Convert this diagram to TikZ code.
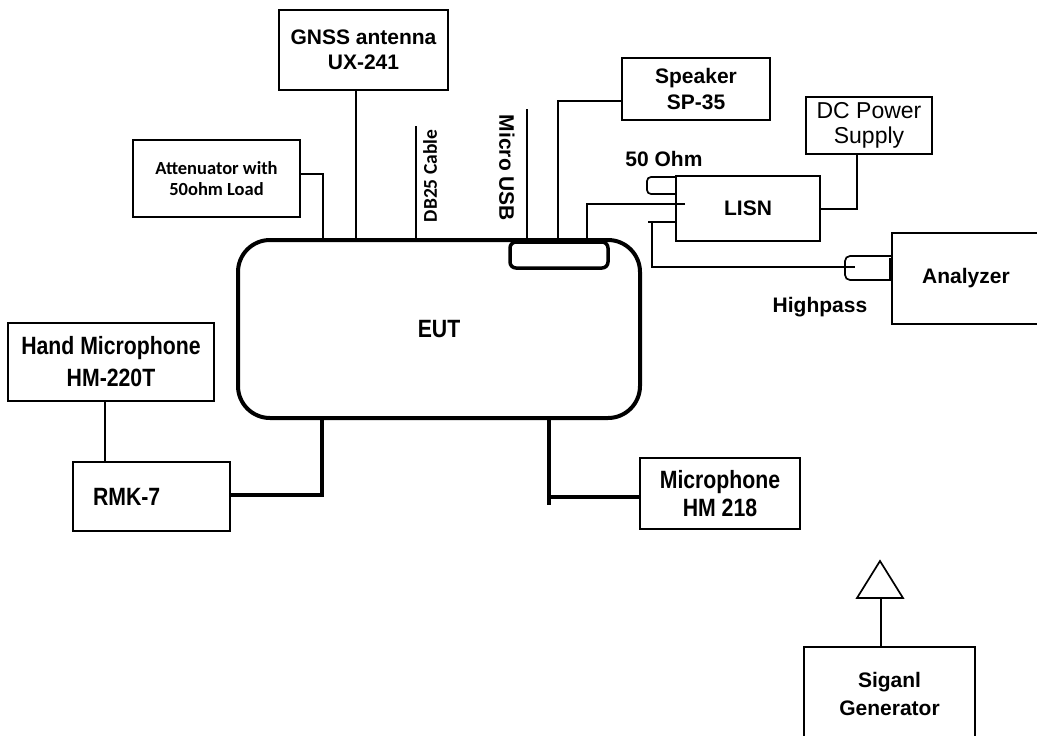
\documentclass[tikz,border=0pt]{standalone}
\usepackage{fontspec}
\setmainfont{Liberation Sans}
\newfontfamily\narrowf{Liberation Sans}[FakeStretch=0.85]
\newfontfamily\calf{Carlito}
\begin{document}
\begin{tikzpicture}[x=1pt,y=-1pt,
  box/.style={draw, line width=1.6pt, inner sep=0pt, align=center},
  arialf/.style={font=\fontsize{21}{25}\selectfont\bfseries},
  narf/.style={font=\narrowf\fontsize{25}{30}\selectfont\bfseries},
  thinline/.style={line width=1.7pt},
  thickline/.style={line width=4pt}
]
\useasboundingbox (0,0) rectangle (1037,736);
% EUT
\node[draw, line width=4pt, rounded corners=32pt, minimum width=402pt, minimum height=178pt, narf] (eut) at (439,329) {EUT};
\node[draw, line width=3.5pt, rounded corners=6pt, minimum width=98pt, minimum height=26pt] (port) at (559,255) {};
% boxes
\node[box, arialf, minimum width=169pt, minimum height=80pt] (gnss) at (363.5,50) {GNSS antenna\\UX-241};
\node[box, font=\calf\fontsize{18.5}{21}\selectfont\bfseries, minimum width=167pt, minimum height=77pt] (att) at (216.5,178.5) {Attenuator with\\50ohm Load};
\node[box, arialf, minimum width=148pt, minimum height=62pt, font=\fontsize{21}{26}\selectfont\bfseries] (spk) at (696,89) {Speaker\\SP-35};
\node[box, font=\fontsize{23}{25}\selectfont, minimum width=126pt, minimum height=57pt] (dc) at (869,125.5) {DC Power\\Supply};
\node[box, arialf, minimum width=144pt, minimum height=65pt] (lisn) at (748,208.5) {LISN};
\node[box, arialf, minimum width=148pt, minimum height=91pt] (ana) at (966,278.5) {Analyzer};
\node[box, narf, minimum width=206pt, minimum height=78pt, font=\narrowf\fontsize{25}{32}\selectfont\bfseries] (hand) at (111,362) {Hand Microphone\\HM-220T};
\node[box, narf, text width=117pt, align=left, inner xsep=20pt, minimum height=69pt] (rmk) at (151.5,496.5) {RMK-7};
\node[box, narf, minimum width=160pt, minimum height=71pt, font=\narrowf\fontsize{25}{28}\selectfont\bfseries] (mic) at (720,493.5) {Microphone\\HM 218};
\node[box, arialf, minimum width=171pt, minimum height=93pt, font=\fontsize{21}{28}\selectfont\bfseries] (sig) at (889.5,693.5) {Siganl\\Generator};
% labels
\node[font=\calf\fontsize{19.5}{22}\selectfont\bfseries, rotate=90] (dbl) at (430,176) {DB25 Cable};
\node[arialf, rotate=-90] (usbl) at (507,168) {Micro USB};
\node[arialf] (ohm) at (664,159) {50 Ohm};
\node[arialf] (hpl) at (820,307) {Highpass};
% coordinates
\coordinate (a1) at (323,174);
\coordinate (db) at (416,126);
\coordinate (usb) at (527,109);
\coordinate (sp1) at (558,101);
\coordinate (ls1) at (587,204);
\coordinate (ls2) at (685,204);
\coordinate (lo0) at (676,222);
\coordinate (lo1) at (648,222);
\coordinate (lo2) at (652,222);
\coordinate (hp) at (855,267);
\coordinate (dcj) at (857,209);
\coordinate (r1) at (322,495);
\coordinate (m1) at (549,497);
\coordinate (m2) at (549,505);
\coordinate (tb) at (881,598);
% connectors
\draw[thinline] ([xshift=-7.5pt]gnss.south) -- ([xshift=-7.5pt]gnss.south |- eut.north);
\draw[thinline] (att.east |- a1) -- (a1) -- (a1 |- eut.north);
\draw[thinline] (db) -- (db |- eut.north);
\draw[thinline] (usb) -- (usb |- eut.north);
\draw[thinline] (spk.west |- sp1) -- (sp1) -- (sp1 |- eut.north);
\draw[thinline] (ls2) -- (ls1) -- (ls1 |- eut.north);
\draw[thinline, rounded corners=4pt] (lisn.west |- 0,177) -- (647,177) -- (647,194) -- (lisn.west |- 0,194);
\draw[thinline] (lo0) -- (lo1);
\draw[thinline] (lo2) -- (lo2 |- hp) -- (hp);
\draw[thinline, rounded corners=5pt] (ana.west |- 0,256) -- (845,256) -- (845,280) -- (ana.west |- 0,280);
\draw[line width=3.5pt] (ana.west |- 0,258) -- (ana.west |- 0,280);
\draw[thinline] (lisn.east |- dcj) -- (dcj) -- (dcj |- dc.south);
\draw[thinline] ([xshift=-6pt]hand.south) -- ([xshift=-6pt]hand.south |- rmk.north);
\draw[thickline] (rmk.east |- r1) -- (r1) -- (r1 |- eut.south);
\draw[thickline] (mic.west |- m1) -- (m1);
\draw[thickline] (m1 |- eut.south) -- (m2);
\draw[thinline] ([xshift=-8.5pt]sig.north) -- (tb);
\draw[thinline, line join=miter] (857,598) -- (880,561) -- (903,598) -- cycle;
\end{tikzpicture}
\end{document}
